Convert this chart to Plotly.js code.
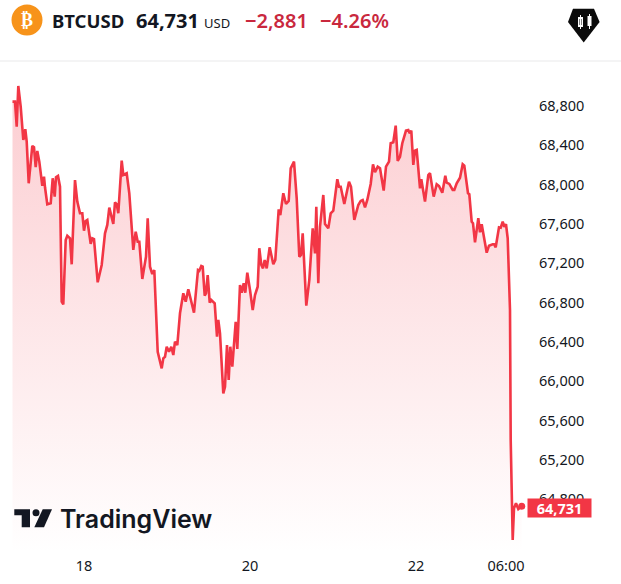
<!DOCTYPE html>
<html><head><meta charset="utf-8">
<script src="https://cdn.plot.ly/plotly-3.0.1.min.js"></script>
<style>html,body{margin:0;padding:0;background:#fff}#c{width:621px;height:584px}</style>
</head><body><div id="c"></div>
<script>
// bar position along the compressed time axis
const barIndex = [0.5,3,4.7,6.3,8.7,11.3,13.3,14.7,16.7,20.3,22,23.7,25.3,27.3,30.3,32,33,35.3,38.7,40.7,42.7,44,46,48,49.7,51.3,53.7,55.3,58,59.7,63,65.3,68,70.3,72,73.7,75.3,78.7,80.3,82,85.7,89.7,93,95.3,97.3,101.3,103,104.7,106.3,109.7,111.3,114.7,117.3,121.3,123.7,125.7,127.3,130.3,134,135.7,138,140.3,142.3,145.7,149.7,151.3,153,154.7,157,159.3,161.3,163,165.3,168,171.3,173.7,176.3,182,186,187.3,189.3,190.7,192.7,194,195.7,197.7,199.3,202.7,205,206.3,208,211.3,213,215,216.7,218.3,220.3,223.7,225.3,228,229.7,231.7,233.3,235.3,238,240.7,243,245.7,247.3,249.3,251,252.7,254.7,257.7,261.3,263.3,266.7,268.3,271.3,274,276.7,278.7,282,284.7,287.3,289,290.7,294.3,297.3,300.7,303,304.3,306.3,308,311.3,313,316.3,318.7,321.3,325.3,327,328.7,332.3,337,339,342.3,346.3,348.7,350.7,353,355.3,358.7,361,363,365.7,368,371.7,374,377,378.7,381.3,383.7,385.7,388,390.3,394,396.3,397.7,399.3,401.3,403,404.7,408,409.3,413,416.3,418,421.7,424.7,427,430.3,433.3,434.7,437.3,440.7,442.3,444.7,448,450.7,452.3,456,457.3,459.7,461,463,466.3,468,469.7,474.7,477,480.7,482,483.7,487,488.7,490.7,492.3,494,495.7,498,498.7,500.7,502,504,506.3,509.7];
const price = [68844,68844,68590,69003,68793,68454,68563,68437,68014,68393,68380,68177,68342,68234,67989,68081,67973,67800,67810,68065,67878,68075,68088,67979,66810,66783,67437,67481,67455,67190,68047,67827,67709,67709,67532,67630,67641,67397,67455,67447,67007,67183,67505,67590,67766,67600,67821,67800,67709,68244,68098,68116,67912,67336,67522,67420,67420,67041,67267,67658,67166,67091,67132,66301,66132,66234,66250,66352,66301,66352,66268,66403,66369,66692,66895,66810,66936,66698,67132,67125,67173,67166,66871,66895,67081,66800,66827,66793,66454,66624,66488,65878,65945,66369,66013,66352,66149,66606,66329,66980,66901,66997,66901,67105,66929,66725,66878,66962,67353,67183,67149,67234,67149,67363,67190,67234,67749,67691,67912,67803,67834,68166,68234,67861,67267,67285,67505,66769,67030,67556,67302,67776,66997,67572,67895,67600,67556,67709,67735,68055,67979,67979,67803,68030,67979,67641,67793,67834,67844,67770,67844,68007,68207,68126,68183,68166,67939,68183,68234,68421,68431,68600,68241,68284,68421,68549,68556,68522,68549,68200,68345,68353,67963,68055,67827,68098,68116,67878,68004,67986,67918,68091,68020,68007,67946,67946,68014,68071,68207,68193,67912,67902,67623,67607,67414,67658,67516,67597,67308,67379,67394,67394,67363,67566,67562,67623,67572,67597,67455,66725,65403,64386,64709,64760,64701,64731];
const priceTicks = [68800,68400,68000,67600,67200,66800,66400,66000,65600,65200,64800];
const timeTickPos = [72,238,404,494];
const timeTickLabels = ['18','20','22','06:00'];
const symbol = 'BTCUSD', last = '64,731', currency = 'USD', change = '\u22122,881', changePct = '\u22124.26%';

const W=621,H=584,L=12,R=527,T=62,B=550;
const px=v=>(v-L)/(R-L), py=v=>(B-v)/(B-T);
const poly=pts=>'M'+pts.map(p=>px(p[0])+','+py(p[1])).join('L')+'Z';
const red='#f23645', dark='#131722', hdr='"Noto Sans", sans-serif';
const note=(text,x,y,size,color,extra)=>Object.assign({text,x:px(x),y:py(y),xref:'paper',yref:'paper',xanchor:'left',yanchor:'middle',showarrow:false,font:{family:hdr,size,color}},extra||{});

const traces=[
 {x:barIndex,y:price,type:'scatter',mode:'lines',line:{color:red,width:2.6,shape:'linear'},fill:'tozeroy',
  fillgradient:{type:'vertical',start:64250,stop:69000,colorscale:[[0,'rgba(255,255,255,1)'],[1,'rgba(252,205,209,1)']]},hoverinfo:'skip'},
 {x:[barIndex[barIndex.length-1]],y:[price[price.length-1]],type:'scatter',mode:'markers',marker:{color:red,size:7},hoverinfo:'skip'}
];
const layout={
 width:W,height:H,margin:{l:L,r:W-R,t:T,b:H-B,pad:0},paper_bgcolor:'#fff',plot_bgcolor:'#fff',showlegend:false,
 font:{family:hdr,color:dark},
 xaxis:{range:[0,515],tickmode:'array',tickvals:timeTickPos,ticktext:timeTickLabels,showgrid:false,zeroline:false,showline:false,ticks:'',ticklabelstandoff:5,tickfont:{size:14.5,color:dark,family:hdr}},
 yaxis:{side:'right',range:[64285,69247],tickmode:'array',tickvals:priceTicks,ticktext:priceTicks.map(v=>v.toLocaleString('en-US')),showgrid:false,zeroline:false,showline:false,ticks:'',ticklabelstandoff:11,tickfont:{size:14.5,color:dark,family:hdr}},
 shapes:[
  {type:'line',xref:'paper',yref:'paper',x0:px(0),x1:px(W),y0:py(61),y1:py(61),line:{color:'#e9e9ea',width:1}},
  {type:'circle',xref:'paper',yref:'paper',x0:px(11.5),x1:px(42.5),y0:py(4.5),y1:py(35.5),fillcolor:'#f7931a',line:{width:0}},
  {type:'path',xref:'paper',yref:'paper',path:poly([[573,8.7],[594,8.7],[599.6,22],[583.7,42.4],[568,22]]),fillcolor:'#0b0b0b',line:{width:0}},
  {type:'rect',xref:'paper',yref:'paper',x0:px(578),x1:px(583),y0:py(17),y1:py(27),fillcolor:'#fff',line:{width:0}},
  {type:'rect',xref:'paper',yref:'paper',x0:px(579.5),x1:px(581.5),y0:py(19),y1:py(25),fillcolor:'#0b0b0b',line:{width:0}},
  {type:'rect',xref:'paper',yref:'paper',x0:px(587.5),x1:px(591.5),y0:py(16),y1:py(26),fillcolor:'#fff',line:{width:0}},
  {type:'rect',xref:'paper',yref:'paper',x0:px(580),x1:px(581),y0:py(15),y1:py(29),fillcolor:'#fff',line:{width:0}},
  {type:'rect',xref:'paper',yref:'paper',x0:px(589),x1:px(590),y0:py(14),y1:py(29),fillcolor:'#fff',line:{width:0}},
  {type:'path',xref:'paper',yref:'paper',path:poly([[14.3,509.3],[30,509.3],[30,527.3],[21.7,527.3],[21.7,515.3],[14.3,515.3]]),fillcolor:'#131722',line:{width:0}},
  {type:'circle',xref:'paper',yref:'paper',x0:px(32.5),x1:px(39.5),y0:py(509.3),y1:py(516.3),fillcolor:'#131722',line:{width:0}},
  {type:'path',xref:'paper',yref:'paper',path:poly([[42.7,509.3],[52,509.3],[44,527.3],[34.3,527.3]]),fillcolor:'#131722',line:{width:0}}
 ],
 annotations:[
  note('\u20bf',27,20,18,'#fff',{xanchor:'center',font:{family:'"DejaVu Sans"',size:18,color:'#fff',weight:700}}),
  note(symbol,50,21,18.5,dark,{font:{family:hdr,size:18.5,color:dark,weight:700}}),
  note(last,134,21,20,dark,{font:{family:hdr,size:20,color:dark,weight:700}}),
  note(currency,202,23,13,dark),
  note(change,243,21,20,'#c9283e',{font:{family:hdr,size:20,color:'#c9283e',weight:600}}),
  note(changePct,318,21,20,'#c9283e',{font:{family:hdr,size:20,color:'#c9283e',weight:600}}),
  note('TradingView',58,519,25,'#131722',{font:{family:'Inter',size:25,color:'#131722',weight:600}}),
  note(last,527,508,14.5,'#fff',{width:63,height:18,bgcolor:red,align:'center',borderpad:0,font:{family:hdr,size:14.5,color:'#fff',weight:700}})
 ]
};
Plotly.newPlot('c',traces,layout,{displayModeBar:false,staticPlot:true});
</script></body></html>
